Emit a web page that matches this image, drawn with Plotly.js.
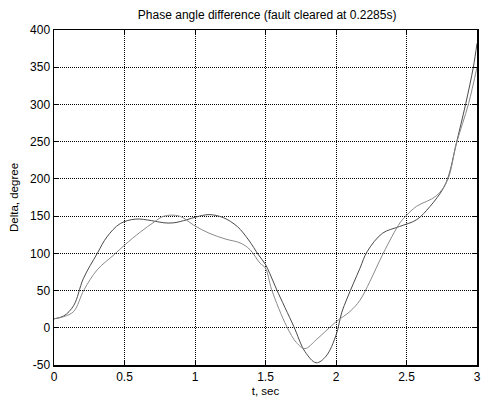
<!DOCTYPE html>
<html>
<head>
<meta charset="utf-8">
<script src="https://cdn.plot.ly/plotly-3.0.1.min.js"></script>
<style>html,body{margin:0;padding:0;background:#fff;}#chart{width:484px;height:399px;}</style>
</head>
<body>
<div id="chart"></div>
<script>
// Series A (darker trace)
const tA = [0, 0.07, 0.14, 0.208, 0.307, 0.375, 0.47, 0.58, 0.69, 0.78, 0.85, 0.94, 1.01, 1.1, 1.2, 1.3, 1.38, 1.45, 1.5, 1.53, 1.58, 1.7, 1.78, 1.86, 1.93, 2.0, 2.04, 2.08, 2.17, 2.22, 2.33, 2.45, 2.57, 2.667, 2.76, 2.8, 2.85, 2.92, 2.974, 3.0];
const yA = [12, 16, 30, 66, 100, 122, 140, 146, 144, 141, 141, 145, 149, 152, 148, 136, 118, 98, 85, 73, 51, 2, -32, -47, -38, -10, 20, 40, 80, 102, 127, 136, 145, 163, 187, 205, 245, 301, 350, 382];
// Series B (lighter trace)
const tB = [0, 0.07, 0.14, 0.213, 0.307, 0.425, 0.5, 0.615, 0.71, 0.78, 0.89, 0.99, 1.1, 1.22, 1.32, 1.39, 1.46, 1.5, 1.544, 1.65, 1.72, 1.78, 1.86, 2.0, 2.1, 2.17, 2.24, 2.335, 2.454, 2.5, 2.57, 2.71, 2.79, 2.855, 2.94, 3.0];
const yB = [12, 15, 22, 51, 78, 98, 111, 129, 142, 150, 150, 138, 127, 119, 114, 105, 87, 80, 51, 2, -20, -28, -16, 8, 22, 37, 62, 100, 141, 151, 163, 177, 198, 248, 301, 350];

const xTicks = [0, 0.5, 1, 1.5, 2, 2.5, 3];
const yTicks = [-50, 0, 50, 100, 150, 200, 250, 300, 350, 400];

const titleText = 'Phase angle difference (fault cleared at 0.2285s)';
const xLabel = 't, sec';
const yLabel = 'Delta, degree';

const fam = 'Liberation Sans, Arial, sans-serif';
const tickFont = {family: fam, size: 12, color: '#000'};
const titleFont = {family: fam, size: 12, color: '#000'};
const labelFont = {family: fam, size: 11.5, color: '#000'};

const traces = [
  {x: tA, y: yA, type: 'scatter', mode: 'lines', line: {color: '#4a4a4a', width: 1, shape: 'spline', smoothing: 1}, hoverinfo: 'skip'},
  {x: tB, y: yB, type: 'scatter', mode: 'lines', line: {color: '#8a8a8a', width: 1, shape: 'spline', smoothing: 1}, hoverinfo: 'skip'}
];

const axisCommon = {
  showline: true, linecolor: '#000', linewidth: 1.5, mirror: 'ticks',
  ticks: 'inside', ticklen: 4, tickcolor: '#000',
  showgrid: true, gridcolor: '#000', gridwidth: 1, griddash: '1px,1px',
  zeroline: false, tickfont: tickFont
};

const layout = {
  width: 484, height: 399,
  margin: {l: 54, r: 7, t: 30, b: 34},
  paper_bgcolor: '#fff', plot_bgcolor: '#fff',
  showlegend: false,
  font: tickFont,
  title: {text: titleText, font: titleFont, x: 0.552, xanchor: 'center', y: 0.963, yanchor: 'middle'},
  xaxis: Object.assign({}, axisCommon, {
    range: [0, 3], tickvals: xTicks, ticktext: xTicks.map(String),
    title: {text: xLabel, font: labelFont, standoff: 4}
  }),
  yaxis: Object.assign({}, axisCommon, {
    range: [-50, 400], tickvals: yTicks, ticktext: yTicks.map(String),
    title: {text: yLabel, font: labelFont, standoff: 9}
  })
};

Plotly.newPlot('chart', traces, layout, {staticPlot: true, displayModeBar: false});
</script>
</body>
</html>
